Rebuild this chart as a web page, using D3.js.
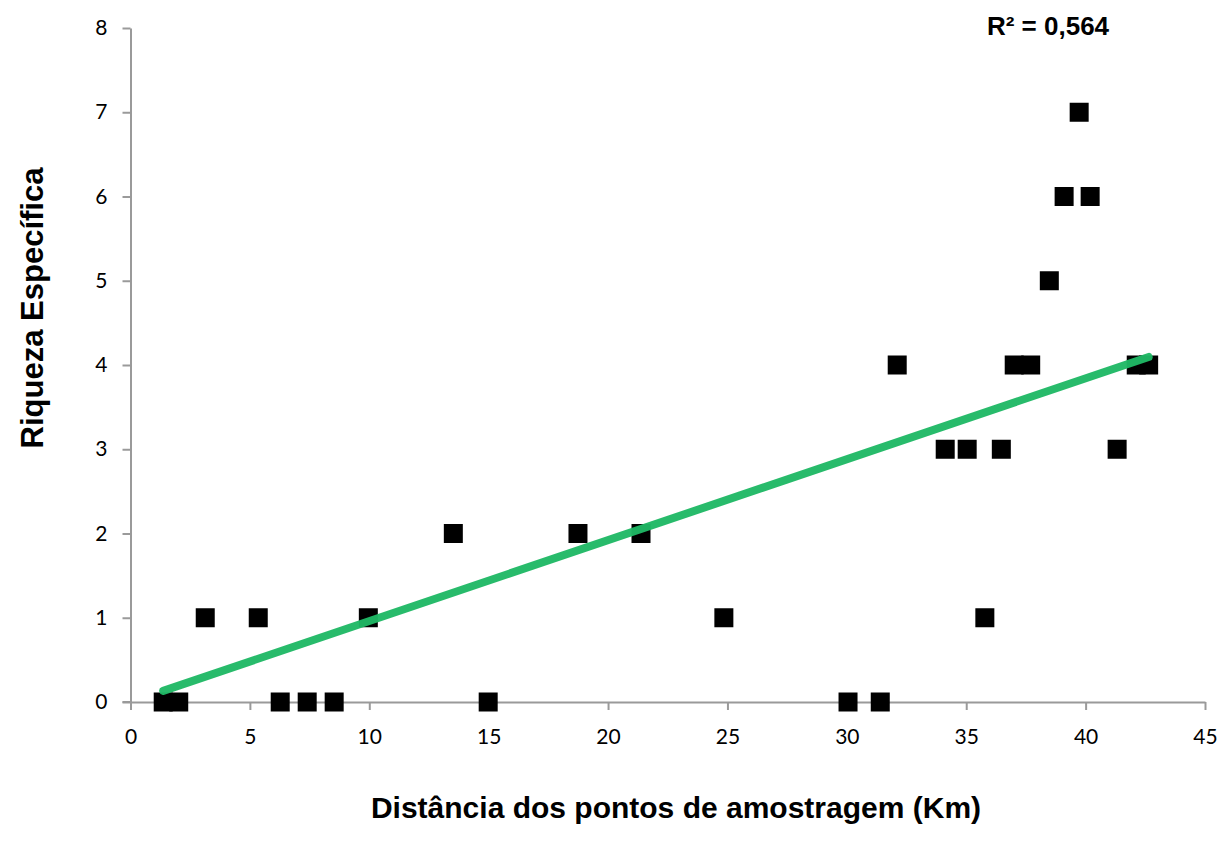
<!DOCTYPE html>
<html>
<head>
<meta charset="utf-8">
<script src="https://cdn.jsdelivr.net/npm/d3@7"></script>
<style>
  body { margin: 0; background: #fff; }
  svg { display: block; }
</style>
</head>
<body>
<div id="chart"></div>
<script>
// distance (km) and species richness
const distKm = [1.37, 2.02, 3.13, 5.35, 6.27, 7.40, 8.53, 9.96, 13.52, 14.98,
  18.74, 21.38, 24.85, 30.05, 31.40, 32.11, 34.12, 35.04, 35.78, 36.47,
  37.01, 37.70, 38.48, 39.10, 39.73, 40.19, 41.32, 42.12, 42.64];
const richness = [0, 0, 1, 1, 0, 0, 0, 1, 2, 0,
  2, 2, 1, 0, 0, 4, 3, 3, 1, 3,
  4, 4, 5, 6, 7, 6, 3, 4, 4];
const xTicks = [0, 5, 10, 15, 20, 25, 30, 35, 40, 45];
const yTicks = [0, 1, 2, 3, 4, 5, 6, 7, 8];
const r2Label = 'R² = 0,564';

const W = 1227, H = 850;
const svg = d3.select('#chart').append('svg').attr('width', W).attr('height', H);

const x = d3.scaleLinear().domain([0, 45]).range([130.5, 1205]);
const y = d3.scaleLinear().domain([0, 8]).range([702, 28]);
const axisColor = '#9a9a9a';
const tickFont = 'Lato, "Open Sans", sans-serif';

// x axis
const gx = svg.append('g').attr('transform', `translate(0,${y(0)})`)
  .call(d3.axisBottom(x).tickValues(xTicks).tickSize(8).tickPadding(19).tickSizeOuter(0));
// y axis
const gy = svg.append('g').attr('transform', `translate(${x(0)},0)`)
  .call(d3.axisLeft(y).tickValues(yTicks).tickSize(8).tickPadding(15).tickSizeOuter(0));

[gx, gy].forEach(g => {
  g.select('.domain').attr('stroke', axisColor).attr('stroke-width', 2);
  g.selectAll('.tick line').attr('stroke', axisColor).attr('stroke-width', 2);
  g.selectAll('.tick text').attr('fill', '#000').attr('font-size', 21).attr('font-family', tickFont);
});
// x axis line runs a little past the y axis
svg.append('line').attr('x1', x(0) - 8).attr('x2', x(0)).attr('y1', y(0)).attr('y2', y(0))
  .attr('stroke', axisColor).attr('stroke-width', 2);

// markers
const pts = distKm.map((d, i) => ({ d, r: richness[i] }));
const sz = 19;
svg.append('g').selectAll('rect').data(pts).join('rect')
  .attr('x', p => x(p.d) - sz / 2)
  .attr('y', p => y(p.r) - sz / 2)
  .attr('width', sz).attr('height', sz)
  .attr('fill', '#000');

// linear trendline, intercept fixed at 0 (as in the original)
const slope = d3.sum(pts, p => p.d * p.r) / d3.sum(pts, p => p.d * p.d);
const xr = d3.extent(distKm);
svg.append('path')
  .datum(xr.map(v => ({ d: v, r: slope * v })))
  .attr('fill', 'none')
  .attr('stroke', '#1fb865')
  .attr('stroke-opacity', 0.96)
  .attr('stroke-width', 8)
  .attr('stroke-linecap', 'round')
  .attr('d', d3.line().x(p => x(p.d)).y(p => y(p.r)));

// labels
const bold = '"Liberation Sans", Arial, sans-serif';
svg.append('text').attr('x', 1048).attr('y', 35).attr('text-anchor', 'middle')
  .attr('font-family', bold).attr('font-weight', 'bold').attr('font-size', 26)
  .text(r2Label);

svg.append('text').attr('x', 676).attr('y', 818).attr('text-anchor', 'middle')
  .attr('font-family', bold).attr('font-weight', 'bold').attr('font-size', 30)
  .text('Distância dos pontos de amostragem (Km)');

svg.append('text').attr('transform', 'translate(43,308) rotate(-90)').attr('text-anchor', 'middle')
  .attr('font-family', bold).attr('font-weight', 'bold').attr('font-size', 31)
  .text('Riqueza Específica');
</script>
</body>
</html>
